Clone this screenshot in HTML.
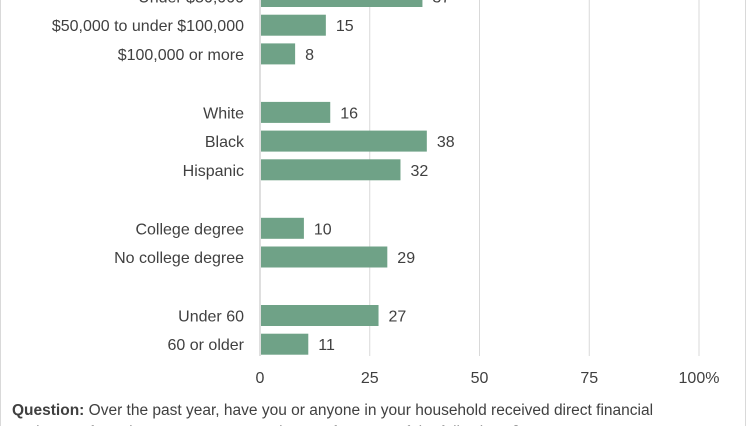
<!DOCTYPE html>
<html><head><meta charset="utf-8"><style>
body{margin:0;background:#fff;font-family:"Liberation Sans",sans-serif;}
svg text{font-family:"Liberation Sans",sans-serif;fill:#404040;}
</style></head><body>
<svg width="747" height="426" viewBox="0 0 747 426">
<line x1="0.5" y1="0" x2="0.5" y2="426" stroke="#d9d9d9"/>
<line x1="745.5" y1="0" x2="745.5" y2="426" stroke="#d9d9d9"/>
<g id="grid"></g><g id="bars"></g><g id="ticks"></g>
<text x="12" y="415" font-size="15.5"><tspan font-weight="bold">Question:</tspan> Over the past year, have you or anyone in your household received direct financial</text>
<text x="12" y="437" font-size="15.5">assistance from the government or assistance from any of the following? [Answer percent</text>
</svg>
<script>
const categories=["Under $50,000","$50,000 to under $100,000","$100,000 or more","White","Black","Hispanic","College degree","No college degree","Under 60","60 or older"];
const values=[37,15,8,16,38,32,10,29,27,11];
const groups=[0,0,0,1,1,1,2,2,3,3];
const tickValues=[0,25,50,75,100];
const tickLabels=["0","25","50","75","100%"];
const NS="http://www.w3.org/2000/svg";
const x0=260,pxPer=4.39;
const xs=v=>x0+v*pxPer;
const rowH=28.7,groupGap=29.5,yStart=-3.5;
const yc=i=>yStart+i*rowH+groupGap*groups[i]+ (groups[i]>0?0.3*groups[i]:0);
function mk(t,a){const e=document.createElementNS(NS,t);for(const k in a)e.setAttribute(k,a[k]);return e;}
const grid=document.getElementById('grid'),bars=document.getElementById('bars'),ticks=document.getElementById('ticks');
tickValues.forEach((v,i)=>{
 const l=mk('line',{x1:xs(v),x2:xs(v),y1:0,y2:356,stroke:i==0?'#bfbfbf':'#d9d9d9'});
 
 
 grid.appendChild(l);
 const t=mk('text',{x:xs(v),y:383,'font-size':16,'text-anchor':'middle'});
 t.textContent=tickLabels[i];
 
 
 ticks.appendChild(t);
});
categories.forEach((c,i)=>{
 const y=yc(i);
 const r=mk('rect',{x:x0+1,y:y-10.5,width:xs(values[i])-x0-1,height:21,fill:'#6fa287'});
 
 
 bars.appendChild(r);
 const lab=mk('text',{x:244,y:y+6,'font-size':16,'text-anchor':'end'});
 lab.textContent=c;
 
 
 bars.appendChild(lab);
 const vl=mk('text',{x:xs(values[i])+10,y:y+6,'font-size':16});
 vl.textContent=values[i];
 
 
 bars.appendChild(vl);
});
</script>
</body></html>
